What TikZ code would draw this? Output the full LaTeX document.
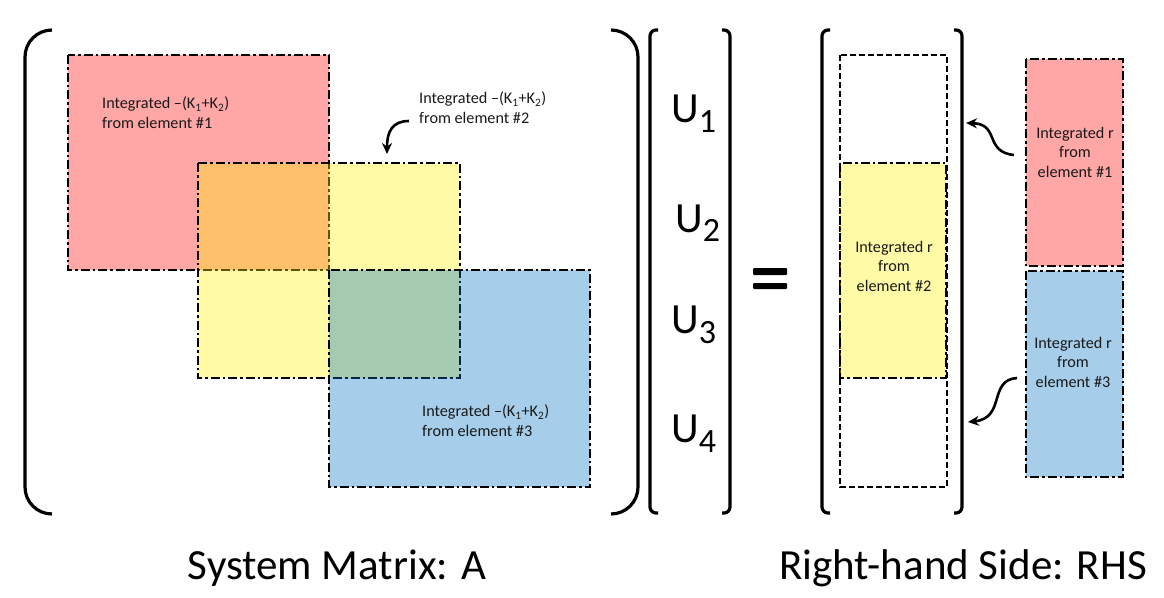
\documentclass[tikz,border=0pt]{standalone}
\usepackage{fontspec}
\setmainfont{Carlito}
\usetikzlibrary{arrows.meta}
\definecolor{pblue}{RGB}{0,112,192}
\begin{document}
\begin{tikzpicture}[x=1pt,y=-1pt,
  blk/.style={line width=2.6pt, dash pattern=on 9pt off 3pt on 2.5pt off 3pt, fill opacity=0.35},
  dbox/.style={line width=2.6pt, dash pattern=on 6pt off 3pt},
  brk/.style={line width=3.2pt},
  stxt/.style={font=\fontsize{16.2}{19.5}\selectfont, inner sep=0pt, text=black!90},
  ulab/.style={font=\fontsize{43}{43}\selectfont, inner sep=0pt, anchor=base west},
  captxt/.style={font=\fontsize{43}{43}\selectfont, inner sep=0pt, anchor=base},
  curvarr/.style={line width=2.6pt, -{Stealth[length=11pt,width=10pt]}}]
\useasboundingbox (0,0) rectangle (1164,597);
% system matrix blocks
\draw[blk, fill=red] (68,55) rectangle (329,270);
\draw[blk, fill=yellow] (198,163) rectangle (460,378);
\draw[blk, fill=pblue] (329,270) rectangle (590,487);
% parentheses
\draw[brk, rounded corners=27pt] (52,30) -- (25,30) -- (25,514) -- (52,514);
\draw[brk, rounded corners=27pt] (611,30) -- (638,30) -- (638,514) -- (611,514);
% U vector brackets
\draw[brk, rounded corners=6pt] (658,30) -- (650,30) -- (650,513) -- (658,513);
\draw[brk, rounded corners=6pt] (722,30) -- (730,30) -- (730,513) -- (722,513);
% RHS brackets
\draw[brk, rounded corners=6pt] (830,30) -- (822,30) -- (822,513) -- (830,513);
\draw[brk, rounded corners=6pt] (954,30) -- (962,30) -- (962,513) -- (954,513);
% RHS column
\draw[dbox] (840,55) rectangle (947,487);
\draw[blk, fill=yellow] (840,163) rectangle (946,378);
% separate RHS element vectors
\draw[blk, fill=red] (1026,59) rectangle (1123,266);
\draw[blk, fill=pblue] (1026,271) rectangle (1123,477);
% texts (anchor = baseline of last line)
\node[stxt, anchor=base west, align=left] (t1) at (102,128) {Integrated –(K\textsubscript{1}+K\textsubscript{2})\\from element \#1};
\node[stxt, anchor=base west, align=left] (t2) at (419,123) {Integrated –(K\textsubscript{1}+K\textsubscript{2})\\from element \#2};
\node[stxt, anchor=base west, align=left] (t3) at (422,436) {Integrated –(K\textsubscript{1}+K\textsubscript{2})\\from element \#3};
\node[stxt, anchor=base, align=center] (r2) at (894,291) {Integrated r\\from\\element \#2};
\node[stxt, anchor=base, align=center] (r1) at (1075,177) {Integrated r\\from\\element \#1};
\node[stxt, anchor=base, align=center] (r3) at (1073,387) {Integrated r\\from\\element \#3};
% U labels
\node[ulab] (u1) at (671,122) {U\raisebox{-10pt}{\fontsize{34}{34}\selectfont 1}};
\node[ulab] (u2) at (675,232) {U\raisebox{-9pt}{\fontsize{34}{34}\selectfont 2}};
\node[ulab] (u3) at (671,333) {U\raisebox{-10pt}{\fontsize{34}{34}\selectfont 3}};
\node[ulab] (u4) at (671,442) {U\raisebox{-10pt}{\fontsize{34}{34}\selectfont 4}};
% equals sign
\fill[rounded corners=1pt] (753,268) rectangle (787,275);
\fill[rounded corners=1pt] (753,283) rectangle (787,289);
% captions
\node[captxt] (capA) at (337,579) {System Matrix: A};
\node[captxt] (capR) at (963,579) {Right-hand Side: RHS};
% arrows
\coordinate (a2s) at (409,121);
\coordinate (a2e) at (387,154);
\draw[curvarr] (a2s) .. controls (392,121) and (387,132) .. (a2e);
\coordinate (a1s) at (1014,155);
\coordinate (a1e) at (966,123);
\draw[curvarr] (a1s) .. controls (984,152) and (1000,124) .. (a1e);
\coordinate (a3s) at (1017,378);
\coordinate (a3e) at (968,422);
\draw[curvarr] (a3s) .. controls (988,380) and (1006,418) .. (a3e);
\end{tikzpicture}
\end{document}
